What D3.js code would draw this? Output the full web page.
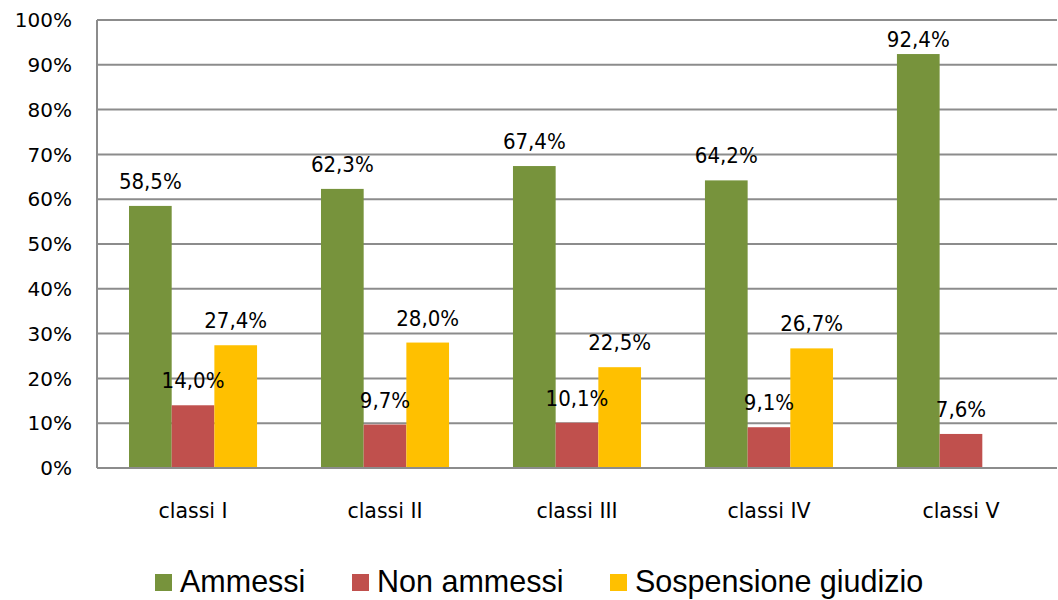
<!DOCTYPE html>
<html>
<head>
<meta charset="utf-8">
<script src="https://cdn.jsdelivr.net/npm/d3@7"></script>
<style>
  body { margin: 0; background: #fff; }
</style>
</head>
<body>
<div id="vis"></div>
<script>
const categories = ["classi I", "classi II", "classi III", "classi IV", "classi V"];
const seriesNames = ["Ammessi", "Non ammessi", "Sospensione giudizio"];
const ammessi = [58.5, 62.3, 67.4, 64.2, 92.4];
const nonAmmessi = [14.0, 9.7, 10.1, 9.1, 7.6];
const sospensione = [27.4, 28.0, 22.5, 26.7, null];
const yTicks = [0, 10, 20, 30, 40, 50, 60, 70, 80, 90, 100];
const colors = ["#77933C", "#C0504D", "#FFC000"];

const seriesValues = [ammessi, nonAmmessi, sospensione];

const svg = d3.select("#vis").append("svg")
  .attr("width", 1058)
  .attr("height", 600);

const x0 = d3.scaleBand().domain(categories).range([97, 1057]).paddingInner(0.333).paddingOuter(0.1667);
const x1 = d3.scaleBand().domain(seriesNames).range([0, x0.bandwidth()]);
const y = d3.scaleLinear().domain([0, 100]).range([468, 20]);

// gridlines
svg.append("g").selectAll("line")
  .data(yTicks)
  .join("line")
  .attr("x1", 97).attr("x2", 1057)
  .attr("y1", d => y(d)).attr("y2", d => y(d))
  .attr("stroke", "#8c8c8c")
  .attr("stroke-width", 2);

// y axis line
svg.append("line")
  .attr("x1", 97).attr("x2", 97)
  .attr("y1", y(100)).attr("y2", y(0))
  .attr("stroke", "#8c8c8c")
  .attr("stroke-width", 2);

// y labels
svg.append("g").selectAll("text")
  .data(yTicks)
  .join("text")
  .attr("x", 72)
  .attr("y", d => y(d))
  .attr("dy", "0.36em")
  .attr("text-anchor", "end")
  .attr("font-family", "DejaVu Sans")
  .attr("font-size", 20)
  .attr("fill", "#000")
  .text(d => d + "%");

// bars
const rows = [];
categories.forEach((c, i) => {
  seriesNames.forEach((s, j) => {
    const v = seriesValues[j][i];
    if (v != null) rows.push({cat: c, series: s, idx: j, value: v});
  });
});

svg.append("g").selectAll("rect")
  .data(rows)
  .join("rect")
  .attr("x", d => x0(d.cat) + x1(d.series))
  .attr("y", d => y(d.value))
  .attr("width", x1.bandwidth())
  .attr("height", d => y(0) - y(d.value))
  .attr("fill", d => colors[d.idx]);

// x axis line
svg.append("line")
  .attr("x1", 97).attr("x2", 1057)
  .attr("y1", y(0)).attr("y2", y(0))
  .attr("stroke", "#8c8c8c")
  .attr("stroke-width", 2);

// data labels (kept inside the plot area, like Excel does)
const fmt = v => v.toFixed(1).replace(".", ",") + "%";
svg.append("g").selectAll("text")
  .data(rows)
  .join("text")
  .attr("x", d => x0(d.cat) + x1(d.series) + x1.bandwidth() / 2)
  .attr("y", d => Math.max(y(d.value) - 17, y(100) + 27))
  .attr("text-anchor", "middle")
  .attr("font-family", "DejaVu Sans Condensed, DejaVu Sans")
  .attr("font-stretch", "condensed")
  .attr("font-size", 22)
  .attr("fill", "#000")
  .text(d => fmt(d.value));

// category labels
svg.append("g").selectAll("text")
  .data(categories)
  .join("text")
  .attr("x", d => x0(d) + x0.bandwidth() / 2)
  .attr("y", 518)
  .attr("text-anchor", "middle")
  .attr("font-family", "DejaVu Sans")
  .attr("font-size", 20.5)
  .attr("fill", "#000")
  .text(d => d);

// legend
const legendX = [155, 352, 610];
const legend = svg.append("g").selectAll("g")
  .data(seriesNames)
  .join("g")
  .attr("transform", (d, i) => `translate(${legendX[i]},574)`);

legend.append("rect")
  .attr("width", 17).attr("height", 17)
  .attr("fill", (d, i) => colors[i]);

legend.append("text")
  .attr("x", 25)
  .attr("y", 18)
  .attr("font-family", "Liberation Sans, Arial")
  .attr("font-size", 30.5)
  .attr("fill", "#000")
  .text(d => d);
</script>
</body>
</html>
